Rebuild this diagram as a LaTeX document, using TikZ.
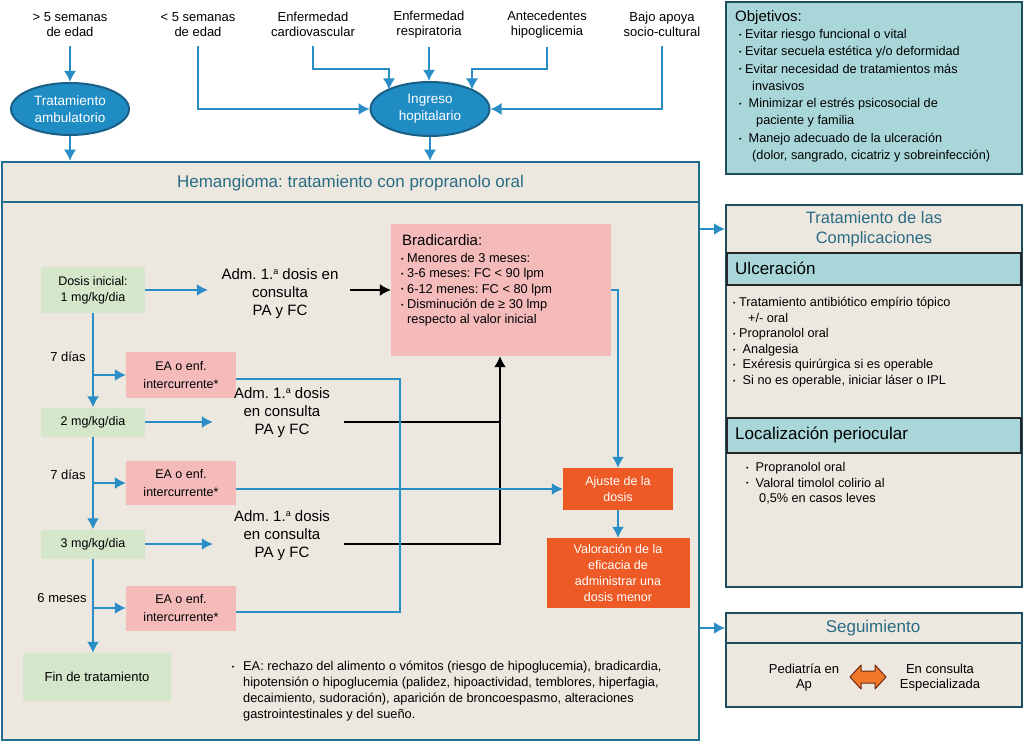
\documentclass[tikz,border=0pt]{standalone}
\usepackage{fontspec}
\setmainfont{Liberation Sans}
\usetikzlibrary{arrows.meta,shapes.geometric,shapes.arrows,calc}
\definecolor{bluel}{HTML}{2B8DC5}
\definecolor{ellfill}{HTML}{1F8CC4}
\definecolor{elldraw}{HTML}{1A5F86}
\definecolor{mainborder}{HTML}{1F6E8E}
\definecolor{beige}{HTML}{ECE8DF}
\definecolor{titlec}{HTML}{2A6C84}
\definecolor{greenb}{HTML}{D5E7CA}
\definecolor{pinkb}{HTML}{F5BBBB}
\definecolor{orangeb}{HTML}{EE5A26}
\definecolor{orangea}{HTML}{F07828}
\definecolor{tealb}{HTML}{A9D7D9}
\definecolor{darkb}{HTML}{1E4F60}
\newcommand{\fsz}[2]{\fontsize{#1}{#2}\selectfont}
\newcommand{\bu}{\raisebox{1.2pt}{\fontsize{7}{7}\selectfont•}}
\newcommand{\supa}{\raisebox{5.5pt}{\fontsize{9}{9}\selectfont a}}
\begin{document}
\frenchspacing
\begin{tikzpicture}[x=1pt,y=-1pt,
  toplbl/.style={font=\fsz{13}{15}, align=center, inner sep=0pt},
  ell/.style={ellipse, fill=ellfill, draw=elldraw, line width=2pt, text=white, font=\fsz{13.5}{17}, align=center, inner sep=0pt},
  barrow/.style={draw=bluel, line width=1.5pt, -{Latex[length=11pt,width=12pt]}},
  bline/.style={draw=bluel, line width=1.5pt},
  karrow/.style={draw=black, line width=1.5pt, -{Latex[length=11pt,width=12pt]}},
  kline/.style={draw=black, line width=1.5pt},
  gbox/.style={rectangle, fill=greenb, inner sep=0pt, align=center, font=\fsz{12.5}{16}},
  pbox/.style={rectangle, fill=pinkb, inner sep=0pt, align=center, font=\fsz{12.5}{17.5}},
  obox/.style={rectangle, fill=orangeb, inner sep=0pt, align=center, text=white, font=\fsz{12.5}{15.7}},
  admtxt/.style={inner sep=0pt, align=center, font=\fsz{15}{18}},
  plain/.style={inner sep=0pt, font=\fsz{13}{15}},
  listtxt/.style={inner sep=0pt, align=left, anchor=north west},
  bigbox/.style={rectangle, draw=darkb, line width=2pt, inner sep=0pt},
  band/.style={rectangle, fill=tealb, draw=black!85, line width=1.3pt, inner sep=0pt, minimum width=294},
  bandtxt/.style={inner sep=0pt, anchor=west, font=\fsz{17}{20}},
  ttl/.style={inner sep=0pt, align=center, text=titlec},
  fatarrow/.style={fill=orangea, draw=black!55!orangeb, line width=1pt, line join=round}
]
\fill[white] (0,0) rectangle (1024,743);
\useasboundingbox (0,0) rectangle (1024,743);

% ---------- top ----------
\node[toplbl] (t1) at (70,24.5) {> 5 semanas\\de edad};
\node[toplbl] (t2) at (198,24.5) {< 5 semanas\\de edad};
\node[toplbl] (t3) at (313,24.5) {Enfermedad\\cardiovascular};
\node[toplbl] (t4) at (429,24.5) {Enfermedad\\respiratoria};
\node[toplbl] (t5) at (547,24.5) {Antecedentes\\hipoglicemia};
\node[toplbl] (t6) at (662,24.5) {Bajo apoya\\socio-cultural};

\node[ell, minimum width=118, minimum height=52] (ta) at (70,109) {Tratamiento\\ambulatorio};
\node[ell, minimum width=119, minimum height=54] (ih) at (430,109) {Ingreso\\hopitalario};

% ---------- main box ----------
\node[rectangle, draw=mainborder, fill=beige, line width=2.5pt, minimum width=697, minimum height=578, inner sep=0pt] (main) at (350.5,451) {};
\coordinate (mh) at (350,202);
\draw[mainborder, line width=2.5pt] (main.west |- mh) -- (main.east |- mh);
\node[ttl, font=\fsz{17}{19}] (mtitle) at (350.5,183) {Hemangioma: tratamiento con propranolo oral};

\draw[barrow, shorten <=9pt] (t1.south) -- (ta.north);
\draw[barrow] (ta.south) -- (ta.south |- main.north);
\draw[barrow, shorten <=9pt] (t2.south) |- (ih.west);
\coordinate (c3) at (389,69); \coordinate (e3) at (389,89.5);
\draw[barrow, shorten <=9pt] (t3.south) |- (c3) -- (e3);
\draw[barrow, shorten <=9pt] (t4.south) -- (t4.south |- ih.north);
\coordinate (c5) at (472,69); \coordinate (e5) at (472,89.5);
\draw[barrow, shorten <=9pt] (t5.south) |- (c5) -- (e5);
\draw[barrow, shorten <=9pt] (t6.south) |- (ih.east);
\draw[barrow] (ih.south) -- (ih.south |- main.north);

% ---------- inside ----------
\node[gbox, minimum width=104, minimum height=46] (g1) at (93,290) {Dosis inicial:\\1 mg/kg/dia};
\node[admtxt, minimum width=140] (a1) at (280,294) {Adm. 1.\supa{} dosis en\\consulta\\PA y FC};
\node[pbox, minimum width=220, minimum height=132] (brad) at (501,290) {};
\node[inner sep=0pt, anchor=west, font=\fsz{15}{18}] (bradh) at (402,240) {Bradicardia:};
\node[listtxt, font=\fsz{12.8}{15.3}] (bradl) at (401,253) {\bu\ Menores de 3 meses:\\\bu\ 3-6 meses: FC < 90 lpm\\\bu\ 6-12 menes: FC < 80 lpm\\\bu\ Disminución de ≥ 30 lmp\\\hspace*{6pt}respecto al valor inicial};

\node[pbox, minimum width=110, minimum height=46] (ea1) at (181,375) {EA o enf.\\intercurrente*};
\node[gbox, minimum width=104, minimum height=29] (g2) at (93,422) {2 mg/kg/dia};
\node[admtxt, minimum width=124] (a2) at (282,413) {Adm. 1.\supa{} dosis\\en consulta\\PA y FC};
\node[pbox, minimum width=110, minimum height=44] (ea2) at (181,483) {EA o enf.\\intercurrente*};
\node[gbox, minimum width=104, minimum height=29] (g3) at (93,544) {3 mg/kg/dia};
\node[admtxt, minimum width=124] (a3) at (282,536) {Adm. 1.\supa{} dosis\\en consulta\\PA y FC};
\node[pbox, minimum width=110, minimum height=45] (ea3) at (181,608) {EA o enf.\\intercurrente*};
\node[gbox, font=\fsz{13}{16}, minimum width=148, minimum height=48] (fin) at (97,677) {Fin de tratamiento};
\node[obox, minimum width=110, minimum height=42] (ajuste) at (618,489) {Ajuste de la\\dosis};
\node[obox, minimum width=143, minimum height=70] (valor) at (618,573) {Valoración de la\\eficacia de\\administrar una\\dosis menor};

\node[plain] (d1) at (68,357) {7 días};
\node[plain] (d2) at (68,475) {7 días};
\node[plain] (d3) at (62,598) {6 meses};

\node[inner sep=0pt] (eab) at (233,668) {\bu};
\node[listtxt, font=\fsz{12.8}{16}] (ean) at (243,661) {EA: rechazo del alimento o vómitos (riesgo de hipoglucemia), bradicardia,\\hipotensión o hipoglucemia (palidez, hipoactividad, temblores, hiperfagia,\\decaimiento, sudoración), aparición de broncoespasmo, alteraciones\\gastrointestinales y del sueño.};

\draw[barrow, shorten >=2pt] (g1.east) -- (g1.east -| a1.west);
\draw[karrow] (a1.east |- g1.east) -- (a1.east |- g1.east -| brad.west);
\draw[barrow] (g1.south) -- (g2.north);
\draw[barrow] (g1.south |- ea1.west) -- (ea1.west);
\draw[barrow] (g2.south) -- (g3.north);
\draw[barrow] (g2.south |- ea2.west) -- (ea2.west);
\draw[barrow] (g3.south) -- (g3.south |- fin.north);
\draw[barrow] (g3.south |- ea3.west) -- (ea3.west);
\draw[barrow, shorten >=7pt] (g2.east) -- (g2.east -| a2.west);
\draw[barrow, shorten >=7pt] (g3.east) -- (g3.east -| a3.west);
\coordinate (k2) at (500,422); \coordinate (k3) at (500,544);
\draw[kline] (a2.east |- k2) -- (k2);
\draw[karrow] (a3.east |- k3) -- (k3) -- (k3 |- brad.south);
\coordinate (m) at (400,489);
\draw[bline] ([yshift=-4pt]ea1.east) -| (m);
\draw[bline] ([yshift=-4pt]ea3.east) -| (m);
\draw[barrow] (ea2.east |- ajuste.west) -- (ajuste.west);
\draw[barrow] (brad.east) -| (ajuste.north);
\draw[barrow] (ajuste.south) -- (valor.north);

% ---------- right column ----------
\node[rectangle, fill=tealb, draw=darkb, line width=1.5pt, minimum width=296, minimum height=172, inner sep=0pt] (obj) at (874,88) {};
\node[inner sep=0pt, anchor=west, font=\fsz{15}{18}] (objh) at (735,18) {Objetivos:};
\node[listtxt, font=\fsz{12.7}{17.3}] (objl) at (739,29) {\bu\ Evitar riesgo funcional o vital\\\bu\ Evitar secuela estética y/o deformidad\\\bu\ Evitar necesidad de tratamientos más\\\hspace*{13pt}invasivos\\\bu\ \ Minimizar el estrés psicosocial de\\\hspace*{17pt}paciente y familia\\\bu\ \ Manejo adecuado de la ulceración\\\hspace*{13pt}(dolor, sangrado, cicatriz y sobreinfección)};

\node[bigbox, fill=beige, minimum width=296, minimum height=382] (comp) at (874,396) {};
\node[ttl, font=\fsz{16.5}{20}] (comph) at (874,229) {Tratamiento de las\\Complicaciones};
\node[band, minimum height=32] (ulc) at (874,269) {};
\node[bandtxt] (ulct) at (735,268) {Ulceración};
\node[listtxt, font=\fsz{12.7}{15.6}] (ulcl) at (733,297) {\bu\ Tratamiento antibiótico empírio tópico\\\hspace*{15pt}+/- oral\\\bu\ Propranolol oral\\\bu\ \ Analgesia\\\bu\ \ Exéresis quirúrgica si es operable\\\bu\ \ Si no es operable, iniciar láser o IPL};
\node[band, minimum height=35] (loc) at (874,435.5) {};
\node[bandtxt] (loct) at (735,435) {Localización periocular};
\node[listtxt, font=\fsz{12.7}{15.6}] (locl) at (746,462) {\bu\ \ Propranolol oral\\\bu\ \ Valoral timolol colirio al\\\hspace*{13pt}0,5\% en casos leves};

\node[bigbox, fill=beige, minimum width=296, minimum height=94] (seg) at (874,660) {};
\coordinate (sd) at (874,643);
\draw[darkb, line width=2pt] (seg.west |- sd) -- (seg.east |- sd);
\node[ttl, font=\fsz{17}{20}] (segh) at (873,628) {Seguimiento};
\node[toplbl] (ped) at (804,678) {Pediatría en\\Ap};
\node[toplbl] (esp) at (940,678) {En consulta\\Especializada};
\coordinate (darr) at (868,677);
\filldraw[fatarrow, shift={(darr)}] (-18,0) -- (-7,-12) -- (-7,-6) -- (7,-6) -- (7,-12) -- (18,0) -- (7,12) -- (7,6) -- (-7,6) -- (-7,12) -- cycle;

\draw[barrow, line width=2.5pt] (main.east |- comph) -- (comp.west |- comph);
\draw[barrow, line width=2.5pt] (main.east |- segh) -- (seg.west |- segh);
\end{tikzpicture}
\end{document}
